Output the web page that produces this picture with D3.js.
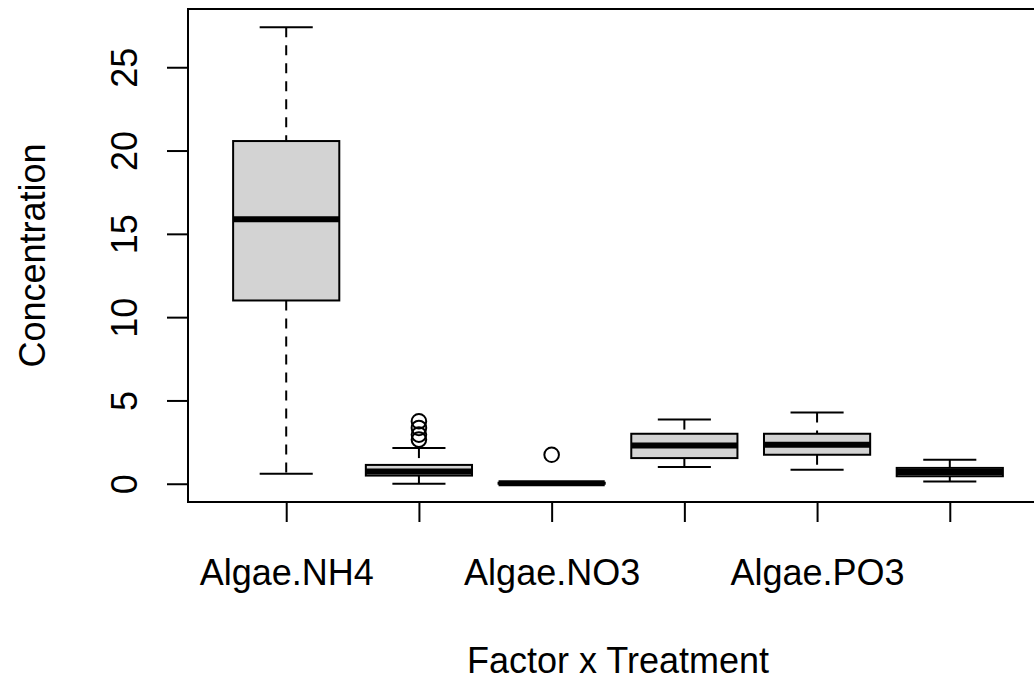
<!DOCTYPE html>
<html>
<head>
<meta charset="utf-8">
<script src="https://cdn.jsdelivr.net/npm/d3@7"></script>
<style>
html,body{margin:0;padding:0;background:#fff;}
svg{display:block;}
text{font-family:"Liberation Sans", Arial, sans-serif;fill:#000;}
</style>
</head>
<body>
<div id="chart"></div>
<script>
// ---- data ----
const positions   = [1, 2, 3, 4, 5, 6];
const tickLabels  = ["Algae.NH4", "", "Algae.NO3", "", "Algae.PO3", ""];
const whiskerLow  = [0.6, 0.0, 0.0, 1.0, 0.84, 0.14];
const q1          = [11.0, 0.49, 0.0, 1.54, 1.74, 0.45];
const median      = [15.87, 0.73, 0.03, 2.3, 2.34, 0.7];
const q3          = [20.57, 1.13, 0.06, 3.0, 3.0, 0.95];
const whiskerHigh = [27.4, 2.14, 0.06, 3.85, 4.28, 1.44];
const outliers    = [[], [3.75, 3.35, 2.95, 2.65], [1.74], [], [], []];
const yTicks      = [0, 5, 10, 15, 20, 25];
const xTitle = "Factor x Treatment";
const yTitle = "Concentration";

// ---- layout ----
const W = 1034, H = 682;
const plot = {left: 188, right: 1048, top: 9, bottom: 502};

const svg = d3.select("#chart").append("svg")
  .attr("width", W).attr("height", H);

const allVals = [].concat(whiskerLow, whiskerHigh, ...outliers);
const yMin = d3.min(allVals), yMax = d3.max(allVals);
const pad = 0.04 * (yMax - yMin);
const y = d3.scaleLinear().domain([yMin - pad, yMax + pad]).range([plot.bottom, plot.top]);
const n = positions.length;
const xpad = 0.04 * n;
const x = d3.scaleLinear().domain([0.5 - xpad, n + 0.5 + xpad]).range([plot.left, plot.right]);

const boxHalf = 0.4, stapleHalf = 0.2;
const data = positions.map((p, i) => ({
  p, lo: whiskerLow[i], q1: q1[i], med: median[i], q3: q3[i], hi: whiskerHigh[i], out: outliers[i]
}));

const g = svg.append("g");
const boxes = g.selectAll("g.box").data(data).enter().append("g").attr("class", "box");

// whiskers (dashed)
boxes.append("line")
  .attr("x1", d => x(d.p)).attr("x2", d => x(d.p))
  .attr("y1", d => y(d.hi)).attr("y2", d => y(d.q3))
  .attr("stroke", "#000").attr("stroke-width", 2).attr("stroke-dasharray", "10,8");
boxes.append("line")
  .attr("x1", d => x(d.p)).attr("x2", d => x(d.p))
  .attr("y1", d => y(d.q1)).attr("y2", d => y(d.lo))
  .attr("stroke", "#000").attr("stroke-width", 2).attr("stroke-dasharray", "10,8");
// staples
boxes.append("line")
  .attr("x1", d => x(d.p - stapleHalf)).attr("x2", d => x(d.p + stapleHalf))
  .attr("y1", d => y(d.hi)).attr("y2", d => y(d.hi))
  .attr("stroke", "#000").attr("stroke-width", 2);
boxes.append("line")
  .attr("x1", d => x(d.p - stapleHalf)).attr("x2", d => x(d.p + stapleHalf))
  .attr("y1", d => y(d.lo)).attr("y2", d => y(d.lo))
  .attr("stroke", "#000").attr("stroke-width", 2);
// box
boxes.append("rect")
  .attr("x", d => x(d.p - boxHalf)).attr("width", d => x(d.p + boxHalf) - x(d.p - boxHalf))
  .attr("y", d => y(d.q3)).attr("height", d => Math.max(0, y(d.q1) - y(d.q3)))
  .attr("fill", "#d3d3d3").attr("stroke", "#000").attr("stroke-width", 2);
// median
boxes.append("line")
  .attr("x1", d => x(d.p - boxHalf)).attr("x2", d => x(d.p + boxHalf))
  .attr("y1", d => y(d.med)).attr("y2", d => y(d.med))
  .attr("stroke", "#000").attr("stroke-width", 6);
// outliers
boxes.selectAll("circle").data(d => d.out.map(v => ({p: d.p, v}))).enter().append("circle")
  .attr("cx", d => x(d.p)).attr("cy", d => y(d.v)).attr("r", 7.3)
  .attr("fill", "none").attr("stroke", "#000").attr("stroke-width", 2);

// frame
svg.append("rect")
  .attr("x", plot.left).attr("y", plot.top)
  .attr("width", plot.right - plot.left).attr("height", plot.bottom - plot.top)
  .attr("fill", "none").attr("stroke", "#000").attr("stroke-width", 2);

// y axis
const yAxis = d3.axisLeft(y).tickValues(yTicks).tickSize(21).tickPadding(0).tickFormat(d3.format("d"));
const ya = svg.append("g").attr("transform", `translate(${plot.left},0)`).call(yAxis);
ya.select(".domain").remove();
ya.selectAll(".tick line").attr("stroke", "#000").attr("stroke-width", 2);
ya.selectAll(".tick text")
  .attr("x", null).attr("dy", null)
  .attr("transform", "translate(-51,0) rotate(-90)")
  .attr("text-anchor", "middle")
  .style("font-size", "36px").style("font-family", "'Liberation Sans', Arial, sans-serif");

// x axis
const xAxis = d3.axisBottom(x).tickValues(positions).tickSize(20).tickPadding(0)
  .tickFormat((d, i) => tickLabels[i]);
const xa = svg.append("g").attr("transform", `translate(0,${plot.bottom})`).call(xAxis);
xa.select(".domain").remove();
xa.selectAll(".tick line").attr("stroke", "#000").attr("stroke-width", 2);
xa.selectAll(".tick text")
  .attr("y", 83).attr("dy", null)
  .attr("text-anchor", "middle")
  .style("font-size", "36px").style("font-family", "'Liberation Sans', Arial, sans-serif");

// titles
svg.append("text")
  .attr("x", (plot.left + plot.right) / 2).attr("y", 673)
  .attr("text-anchor", "middle").style("font-size", "36px")
  .text(xTitle);
svg.append("text")
  .attr("transform", `translate(45,${(plot.top + plot.bottom) / 2}) rotate(-90)`)
  .attr("text-anchor", "middle").style("font-size", "36px")
  .text(yTitle);
</script>
</body>
</html>
